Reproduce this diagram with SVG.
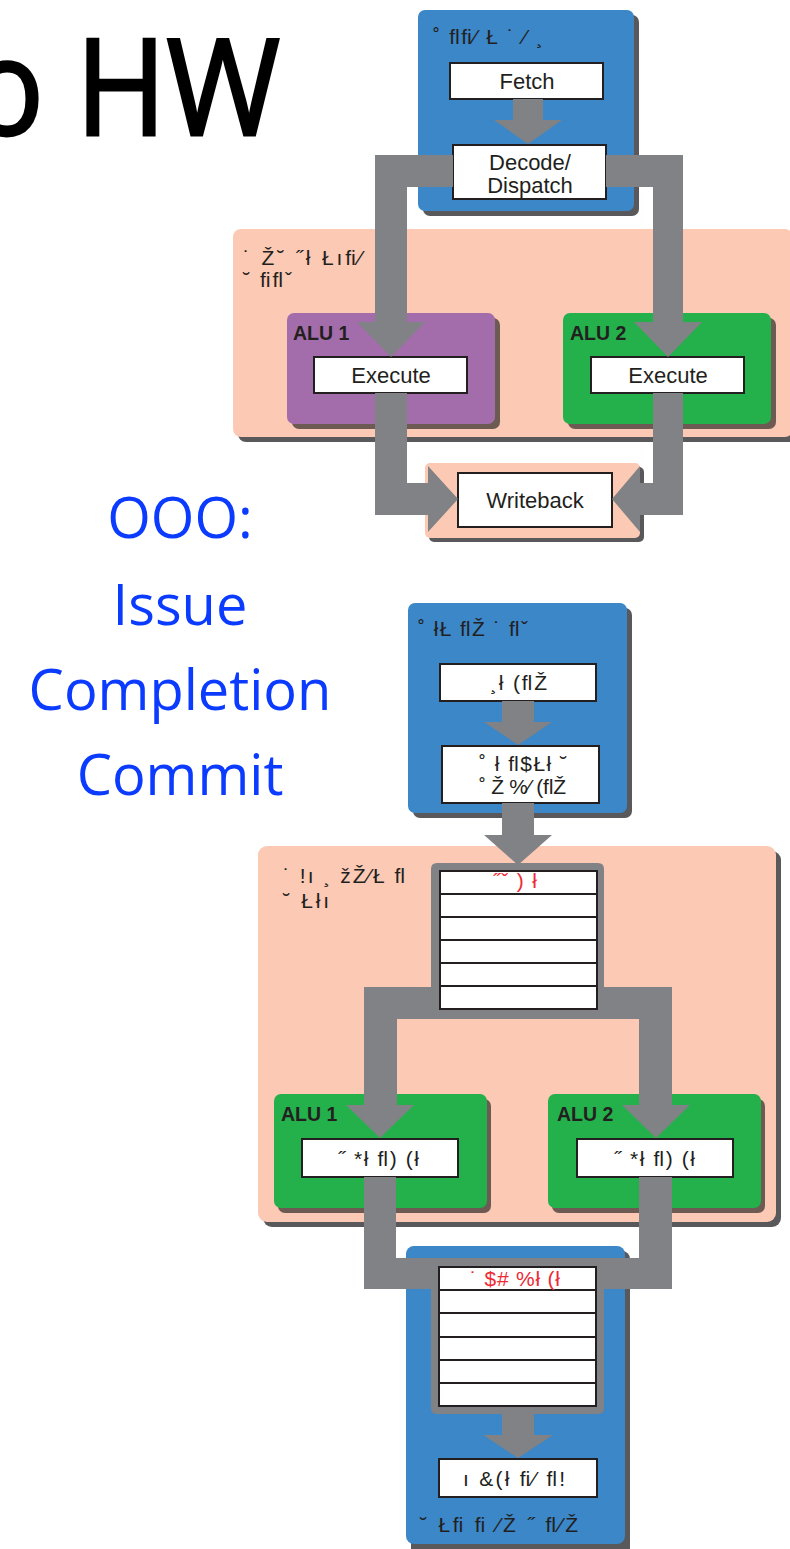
<svg xmlns="http://www.w3.org/2000/svg" width="790" height="1549" viewBox="0 0 790 1549">
<defs>
<style>
.t{font-family:"Liberation Sans",Arial,sans-serif;font-size:22px;fill:#231f20}
.g{font-family:"Liberation Sans",Arial,sans-serif;font-size:21px;fill:#231f20}
.c{text-anchor:middle}
.alu{font-family:"Liberation Sans",Arial,sans-serif;font-size:19.5px;font-weight:bold;fill:#231f20}
.red{font-family:"Liberation Sans",Arial,sans-serif;font-size:21px;fill:#ee2a35}
.big{font-family:"Open Sans","Noto Sans",sans-serif;fill:#0b3bff;font-size:56px;text-anchor:middle}
.blue{fill:#3b87c8}
.pink{fill:#fbc9b4}
.green{fill:#24b04b}
.purple{fill:#a36dab}
.sh{fill:#59595b}
.ash{fill:#6d5a52}
.box{fill:#fff;stroke:#231f20;stroke-width:2}
.row{fill:none;stroke:#231f20;stroke-width:2}
.conn{fill:#808285}
</style>
</defs>
<rect width="790" height="1549" fill="#fff"/>
<g id="title">
<text x="-30" y="135" font-family="Open Sans, Noto Sans, sans-serif" font-size="134" fill="#000" stroke="#000" stroke-width="3" textLength="310" lengthAdjust="spacingAndGlyphs">o HW</text>
</g>
<g id="ooo-text">
<text class="big" x="180" y="538">OOO:</text>
<text class="big" x="180" y="625">Issue</text>
<text class="big" x="180" y="710">Completion</text>
<text class="big" x="180" y="795">Commit</text>
</g>
<!-- top diagram -->
<g id="frontend1">
<rect class="sh" x="423" y="15" width="216" height="201" rx="7"/>
<rect class="blue" x="418" y="10" width="216" height="201" rx="7"/>
<text class="g" x="433" y="44" textLength="110" lengthAdjust="spacing">˚ ﬂﬁ⁄ Ł ˙ ⁄ ¸</text>
</g>
<g id="fetch">
<rect class="box" x="450" y="63" width="153" height="36"/>
<text class="t c" x="527" y="89">Fetch</text>
</g>
<g id="decode">
<rect class="box" x="453" y="145" width="153" height="54"/>
<text class="t c" x="530" y="170">Decode/</text>
<text class="t c" x="530" y="193">Dispatch</text>
</g>
<g id="core1">
<rect class="sh" x="238" y="234" width="560" height="208" rx="8"/>
<rect class="pink" x="233" y="229" width="560" height="208" rx="8"/>
<text class="g" x="243" y="265" textLength="119" lengthAdjust="spacing">˙ Ž˘ ˝ł Łıﬁ⁄</text>
<text class="g" x="243" y="287" textLength="49" lengthAdjust="spacing">˘ ﬁﬂˇ</text>
</g>
<g id="alu1-top">
<rect class="ash" x="292" y="318" width="208" height="111" rx="7"/>
<rect class="purple" x="287" y="313" width="208" height="111" rx="7"/>
<text class="alu" x="293" y="340">ALU 1</text>
</g>
<g id="alu2-top">
<rect class="ash" x="568" y="318" width="208" height="111" rx="7"/>
<rect class="green" x="563" y="313" width="208" height="111" rx="7"/>
<text class="alu" x="570" y="340">ALU 2</text>
</g>
<g id="execute1">
<rect class="box" x="314" y="357" width="153" height="36"/>
<text class="t c" x="391" y="383">Execute</text>
</g>
<g id="execute2">
<rect class="box" x="591" y="357" width="153" height="36"/>
<text class="t c" x="668" y="383">Execute</text>
</g>
<g id="writeback">
<rect class="sh" x="429" y="467" width="215" height="75" rx="5"/>
<rect class="pink" x="425" y="463" width="215" height="75" rx="5"/>
<rect class="box" x="458" y="473" width="154" height="54"/>
<text class="t c" x="535" y="508">Writeback</text>
</g>
<!-- bottom diagram -->
<g id="frontend2">
<rect class="sh" x="413" y="608" width="219" height="210" rx="7"/>
<rect class="blue" x="408" y="603" width="219" height="210" rx="7"/>
<text class="g" x="418" y="636" textLength="110" lengthAdjust="spacing">˚ łŁ ﬂŽ ˙ ﬂˇ</text>
</g>
<g id="box-fetch2">
<rect class="box" x="440" y="664" width="156" height="37"/>
<text class="g" x="490" y="690" textLength="57" lengthAdjust="spacing">¸ł (ﬂŽ</text>
</g>
<g id="box-decode2">
<rect class="box" x="442" y="746" width="157" height="57"/>
<text class="g" x="479" y="771" textLength="88" lengthAdjust="spacing">˚ ł ﬂ$Łł ˘</text>
<text class="g" x="479" y="794" textLength="87" lengthAdjust="spacing">˚ Ž %⁄ (ﬂŽ</text>
</g>
<g id="core2">
<rect class="sh" x="263" y="851" width="518" height="376" rx="9"/>
<rect class="pink" x="258" y="846" width="518" height="376" rx="9"/>
<text class="g" x="283" y="883" textLength="122" lengthAdjust="spacing">˙ !ı ¸ žŽ⁄Ł ﬂ</text>
<text class="g" x="283" y="908" textLength="46" lengthAdjust="spacing">˘ Łłı</text>
</g>
<g id="issue-queue">
<path class="conn" d="M431 1019 V869 Q431 863 437 863 H598 Q604 863 604 869 V1019 Z"/>
<rect x="440" y="871" width="157" height="138" fill="#fff"/>
<path class="row" d="M440 871 H597 V1009 H440 Z M440 894 H597 M440 917 H597 M440 940 H597 M440 963 H597 M440 986 H597"/>
<text class="red" x="493" y="888" textLength="44" lengthAdjust="spacing">˝ˇ ) ł</text>
</g>
<g id="alu1-bottom">
<rect class="ash" x="278" y="1099" width="213" height="114" rx="7"/>
<rect class="green" x="274" y="1094" width="213" height="114" rx="7"/>
<text class="alu" x="281" y="1121">ALU 1</text>
<rect class="box" x="302" y="1139" width="156" height="38"/>
<text class="g" x="338" y="1166" textLength="81" lengthAdjust="spacing">˝ *ł ﬂ) (ł</text>
</g>
<g id="alu2-bottom">
<rect class="ash" x="552" y="1099" width="213" height="114" rx="7"/>
<rect class="green" x="548" y="1094" width="213" height="114" rx="7"/>
<text class="alu" x="557" y="1121">ALU 2</text>
<rect class="box" x="577" y="1139" width="156" height="38"/>
<text class="g" x="614" y="1166" textLength="81" lengthAdjust="spacing">˝ *ł ﬂ) (ł</text>
</g>
<g id="commit-unit">
<rect class="sh" x="411" y="1251" width="219" height="310" rx="8"/>
<rect class="blue" x="406" y="1246" width="219" height="298" rx="8"/>
<text class="g" x="420" y="1532" textLength="158" lengthAdjust="spacing">˘ Łﬁ ﬁ ⁄Ž ˝ ﬂ⁄Ž</text>
</g>
<g id="completion-queue">
<path class="conn" d="M431 1258 H604 V1408 Q604 1414 598 1414 H437 Q431 1414 431 1408 Z"/>
<rect x="439" y="1267" width="157" height="139" fill="#fff"/>
<path class="row" d="M439 1267 H596 V1406 H439 Z M439 1290 H596 M439 1313 H596 M439 1337 H596 M439 1360 H596 M439 1383 H596"/>
<text class="red" x="470" y="1286" textLength="90" lengthAdjust="spacing">˙ $# %ł (ł</text>
</g>
<g id="box-commit">
<rect class="box" x="439" y="1459" width="158" height="38"/>
<text class="g" x="463" y="1486" textLength="102" lengthAdjust="spacing">ı &amp;(ł ﬁ⁄ ﬂ!</text>
</g>
<g id="connectors">
<polygon class="conn" points="513,99 543,99 543,120 562,120 528,144 494,120 513,120"/>
<polygon class="conn" points="453,155 375,155 375,322 357,322 391,357 425,322 407,322 407,187 453,187"/>
<polygon class="conn" points="606,155 683,155 683,322 702,322 668,357 634,322 653,322 653,187 606,187"/>
<polygon class="conn" points="375,393 407,393 407,483 428,483 428,466 458,499 428,532 428,515 375,515"/>
<polygon class="conn" points="653,393 683,393 683,515 640,515 640,532 612,499 640,466 640,483 653,483"/>
<polygon class="conn" points="502,701 534,701 534,722 552,722 518,745 484,722 502,722"/>
<polygon class="conn" points="502,803 534,803 534,835 552,835 518,865 484,835 502,835"/>
<polygon class="conn" points="432,987 364,987 364,1105 346,1105 380,1138 414,1105 397,1105 397,1019 432,1019"/>
<polygon class="conn" points="603,987 672,987 672,1105 690,1105 656,1138 622,1105 639,1105 639,1019 603,1019"/>
<polygon class="conn" points="364,1177 396,1177 396,1258 432,1258 432,1289 364,1289"/>
<polygon class="conn" points="639,1177 672,1177 672,1289 603,1289 603,1258 639,1258"/>
<polygon class="conn" points="502,1414 534,1414 534,1435 553,1435 518,1458 483,1435 502,1435"/>
</g>
</svg>
